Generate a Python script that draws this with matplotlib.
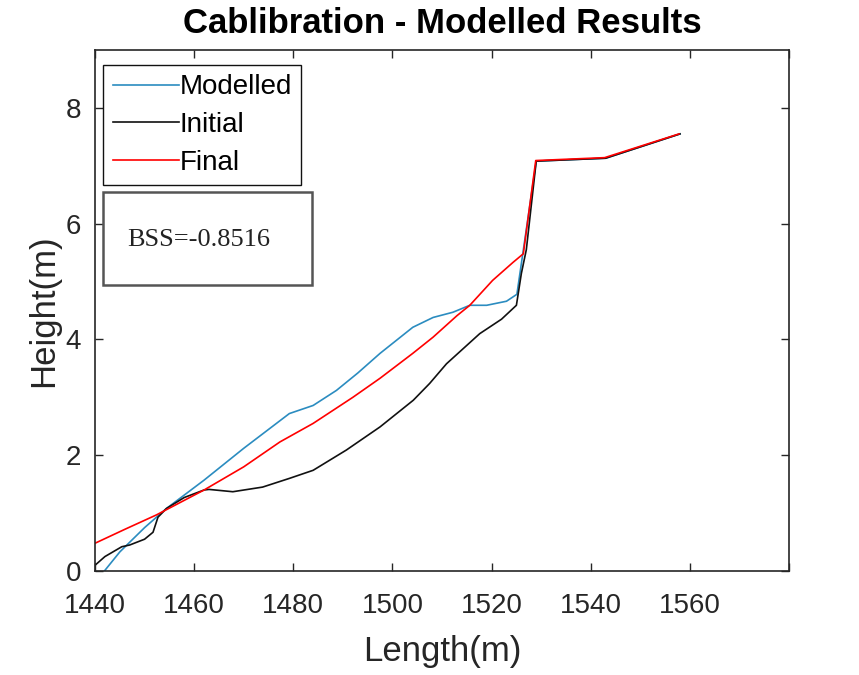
import matplotlib
matplotlib.use("Agg")
import matplotlib.pyplot as plt
from matplotlib.patches import Rectangle

# Data
modelled_x = [1441.6, 1445, 1450, 1454.4, 1462, 1470, 1479.2, 1484, 1488.7, 1493, 1497.5, 1504.1, 1508.2,
              1512.2, 1515.6, 1519, 1523, 1525.1, 1529, 1543, 1558]
modelled_y = [-0.03, 0.33, 0.75, 1.08, 1.57, 2.12, 2.72, 2.86, 3.12, 3.42, 3.76, 4.21, 4.38,
              4.47, 4.59, 4.59, 4.66, 4.78, 7.08, 7.13, 7.55]

initial_x = [1440, 1442, 1445.4, 1447, 1450, 1451.7, 1452.7, 1454.4, 1458, 1462, 1463, 1467.8, 1473.8,
             1479.2, 1484, 1490.7, 1497.5, 1504.2, 1507.5, 1510.9, 1517.6, 1522, 1525, 1526, 1527, 1529,
             1543, 1558]
initial_y = [0.1, 0.25, 0.42, 0.45, 0.55, 0.67, 0.93, 1.08, 1.27, 1.40, 1.41, 1.37, 1.45,
             1.60, 1.74, 2.09, 2.49, 2.95, 3.24, 3.58, 4.10, 4.35, 4.59, 5.14, 5.55, 7.08,
             7.13, 7.55]

final_x = [1440, 1446, 1452.4, 1462, 1470, 1477.3, 1484, 1492, 1497.5, 1504.1, 1508.2, 1513, 1515.6,
           1520.2, 1524.3, 1526.4, 1528.9, 1542.8, 1557.8]
final_y = [0.48, 0.72, 0.97, 1.40, 1.80, 2.23, 2.55, 3.00, 3.33, 3.76, 4.04, 4.41, 4.59,
           5.02, 5.33, 5.48, 7.09, 7.14, 7.55]

x_ticks = [1440, 1460, 1480, 1500, 1520, 1540, 1560, 1580]
x_ticklabels = ["1440", "1460", "1480", "1500", "1520", "1540", "1560", ""]
y_ticks = [0, 2, 4, 6, 8]

plt.rcParams['font.family'] = ['Liberation Sans', 'DejaVu Sans']

fig = plt.figure(figsize=(8.59, 6.75), dpi=100)
ax = fig.add_axes([0.1106, 0.154, 0.808, 0.772])

ax.plot(modelled_x, modelled_y, color='#2b8cc0', lw=1.2, label='Modelled')
ax.plot(initial_x, initial_y, color='#111111', lw=1.2, label='Initial')
ax.plot(final_x, final_y, color='#ff0000', lw=1.2, label='Final')

ax.set_xlim(1440, 1580)
ax.set_ylim(0, 9)
ax.set_xticks(x_ticks)
ax.set_xticklabels(x_ticklabels)
ax.set_yticks(y_ticks)
ax.tick_params(direction='in', top=True, right=True, labelsize=20, length=6,
               width=1, colors='#262626')
ax.tick_params(axis='x', pad=16)
ax.tick_params(axis='y', pad=10)
for s in ax.spines.values():
    s.set_linewidth(1.2)
    s.set_color('#262626')

ax.set_xlabel('Length(m)', fontsize=25, color='#262626', labelpad=11)
ax.set_ylabel('Height(m)', fontsize=25, color='#262626', labelpad=4)
ax.set_title('Cablibration - Modelled Results', fontsize=25, fontweight='bold', pad=12)

leg = ax.legend(loc='upper left', bbox_to_anchor=(0.0115, 0.972), borderaxespad=0,
                fontsize=20, fancybox=False, framealpha=1, edgecolor='#111111',
                handlelength=2.4, handletextpad=0.0, borderpad=0.35, labelspacing=0.42)
leg.get_frame().set_linewidth(1.0)

ax.add_patch(Rectangle((0.0115, 0.549), 0.301, 0.178, transform=ax.transAxes,
                       fill=True, facecolor='white', edgecolor='#555555', lw=1.8, zorder=5))
ax.text(0.047, 0.636, 'BSS=-0.8516', transform=ax.transAxes, fontsize=19,
        family=['Liberation Serif', 'DejaVu Serif'], va='center', ha='left', color='#222222', zorder=6)

fig.savefig('out.png', dpi=100)
